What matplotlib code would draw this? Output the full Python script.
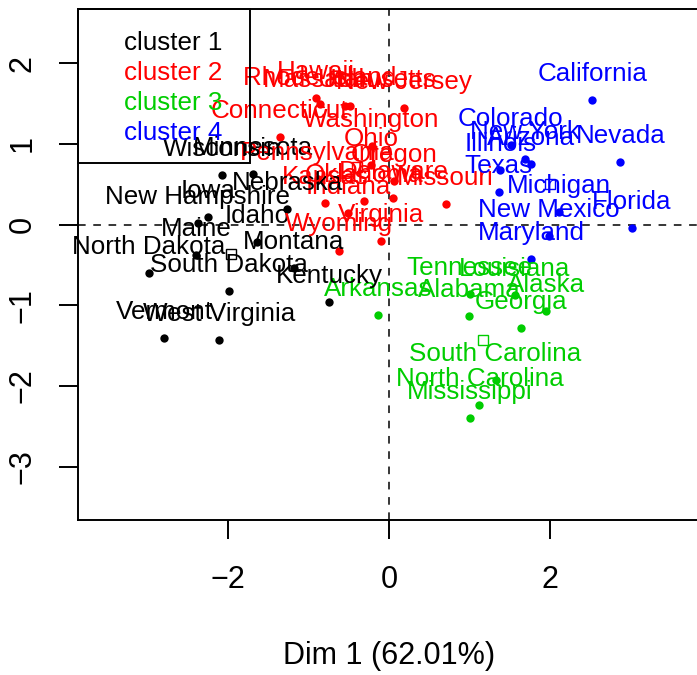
import numpy as np
import matplotlib
matplotlib.use("Agg")
import matplotlib.pyplot as plt
from matplotlib.patches import Rectangle

plt.rcParams['font.family'] = ['Liberation Sans', 'DejaVu Sans']

# individuals on the first factorial plane
states = ["Alabama", "Alaska", "Arizona", "Arkansas", "California", "Colorado",
          "Connecticut", "Delaware", "Florida", "Georgia", "Hawaii", "Idaho",
          "Illinois", "Indiana", "Iowa", "Kansas", "Kentucky", "Louisiana",
          "Maine", "Maryland", "Massachusetts", "Michigan", "Minnesota",
          "Mississippi", "Missouri", "Montana", "Nebraska", "Nevada",
          "New Hampshire", "New Jersey", "New Mexico", "New York",
          "North Carolina", "North Dakota", "Ohio", "Oklahoma", "Oregon",
          "Pennsylvania", "Rhode Island", "South Carolina", "South Dakota",
          "Tennessee", "Texas", "Utah", "Vermont", "Virginia", "Washington",
          "West Virginia", "Wisconsin", "Wyoming"]
dim1 = [0.99, 1.95, 1.76, -0.14, 2.52, 1.51, -1.36, 0.05, 3.01, 1.64, -0.91, -1.64,
        1.38, -0.51, -2.25, -0.80, -0.75, 1.56, -2.40, 1.76, -0.49, 2.11, -1.69,
        1.00, 0.70, -1.19, -1.27, 2.87, -2.38, 0.18, 1.98, 1.68, 1.12, -2.99,
        -0.23, -0.31, 0.06, -0.89, -0.86, 1.32, -1.99, 1.00, 1.36, -0.55, -2.80,
        -0.10, -0.22, -2.11, -2.08, -0.63]
dim2 = [-1.13, -1.07, 0.75, -1.12, 1.54, 0.99, 1.09, 0.33, -0.04, -1.28, 1.57, -0.21,
        0.68, 0.15, 0.10, 0.27, -0.96, -0.87, -0.38, -0.43, 1.47, 0.16, 0.63,
        -2.39, 0.26, -0.54, 0.19, 0.78, 0.02, 1.45, -0.14, 0.82, -2.23, -0.60,
        0.74, 0.29, 0.54, 0.57, 1.49, -1.93, -0.82, -0.86, 0.41, 1.47, -1.40,
        -0.20, 0.97, -1.43, 0.61, -0.32]
cluster = [3, 3, 4, 3, 4, 4, 2, 2, 4, 3, 2, 1, 4, 2, 1, 2, 1, 3, 1, 4, 2, 4, 1,
           3, 2, 1, 1, 4, 1, 2, 4, 4, 3, 1, 2, 2, 2, 2, 2, 3, 1, 3, 4, 2, 1,
           2, 2, 1, 1, 2]

cluster_names = ["cluster 1", "cluster 2", "cluster 3", "cluster 4"]
cluster_cols = ["black", "#FF0000", "#00CD00", "#0000FF"]
xlab = "Dim 1 (62.01%)"

dim1 = np.array(dim1)
dim2 = np.array(dim2)
cluster = np.array(cluster)

fig = plt.figure(figsize=(6.97, 6.75), dpi=100)
ax = fig.add_axes([77.8 / 697, 155 / 675, 623 / 697, 510.7 / 675])
ax.set_xlim(-3.87, 3.87)
ax.set_ylim(-3.659, 2.669)

ax.axhline(0, color='black', lw=1.1, ls=(0, (5, 5)), zorder=1)
ax.axvline(0, color='black', lw=1.1, ls=(0, (5, 5)), zorder=1)

for k in range(4):
    m = cluster == k + 1
    col = cluster_cols[k]
    ax.scatter(dim1[m], dim2[m], s=36, color=col, linewidths=0, zorder=3)
    # cluster centre
    ax.plot(dim1[m].mean(), dim2[m].mean(), marker='s', ms=7.2, mfc='none',
            mec=col, mew=1.0, ls='none', zorder=3)

for name, x, y, c in zip(states, dim1, dim2, cluster):
    ax.annotate(name, (x, y), xytext=(0, 13.7), textcoords='offset points',
                ha='center', va='baseline', fontsize=18.7,
                color=cluster_cols[c - 1], zorder=4)

# legend box (transparent, like R)
ax.add_patch(Rectangle((0, 0.6996), 0.2764, 0.3004, transform=ax.transAxes,
                       fill=False, edgecolor='black', lw=1.4, zorder=5, clip_on=False))
for k, lab in enumerate(cluster_names):
    ax.text(0.0742, 0.9203 - k * 0.0587, lab, transform=ax.transAxes,
            ha='left', va='baseline', fontsize=18.7, color=cluster_cols[k], zorder=5)

ax.set_xticks([-2, 0, 2])
ax.set_yticks([-3, -2, -1, 0, 1, 2])
ax.set_yticklabels(["\u22123", "\u22122", "\u22121", "0", "1", "2"], rotation=90, va='center')
ax.set_xticklabels(["\u22122", "0", "2"])
ax.tick_params(axis='both', length=13.7, width=1.4, labelsize=22)
ax.tick_params(axis='x', pad=19)
ax.tick_params(axis='y', pad=15)
for sp in ax.spines.values():
    sp.set_linewidth(1.4)

ax.set_xlabel(xlab, fontsize=22, labelpad=33)

fig.savefig("out.png", dpi=100)
